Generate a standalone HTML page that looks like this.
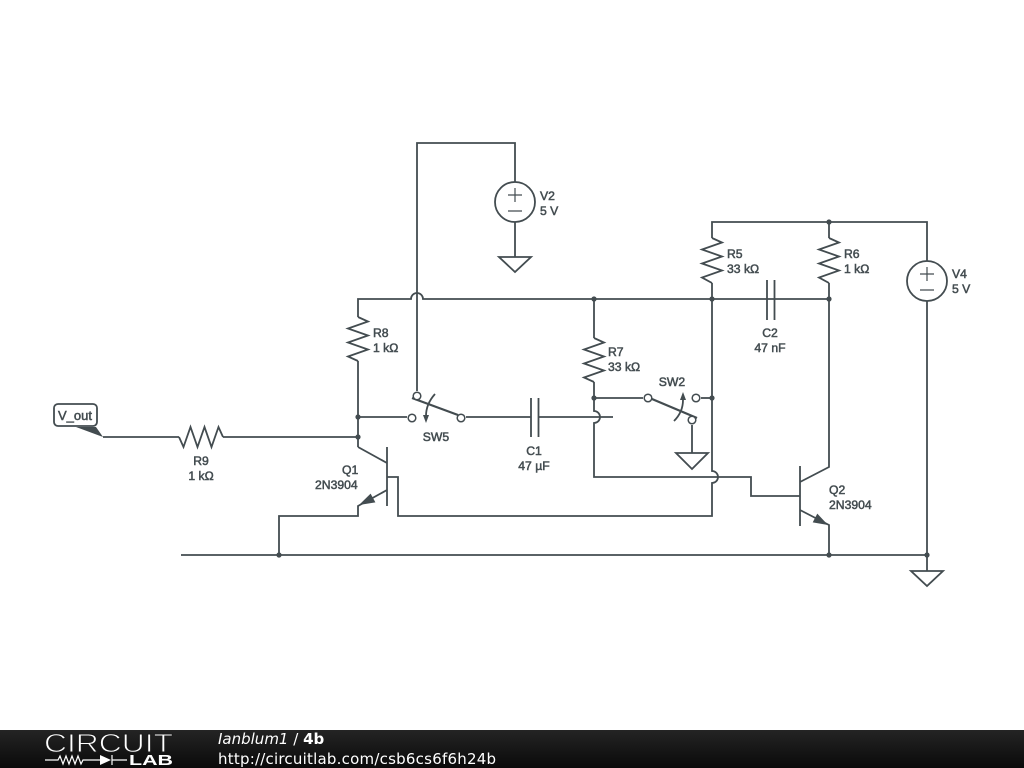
<!DOCTYPE html>
<html>
<head>
<meta charset="utf-8">
<style>
html,body{margin:0;padding:0;background:#fff;width:1024px;height:768px;overflow:hidden}
svg{display:block}
.w{fill:none;stroke:#434c50;stroke-width:1.8}
.d{fill:#434c50;stroke:none}
.c{fill:#fff;stroke:#434c50;stroke-width:1.5}
text.l{font-family:"Liberation Sans",sans-serif;font-size:12.2px;fill:#434c50;stroke:#434c50;stroke-width:.5}
</style>
</head>
<body>
<svg width="1024" height="768" viewBox="0 0 1024 768" xmlns="http://www.w3.org/2000/svg">
<defs>
<linearGradient id="g" x1="0" y1="0" x2="0" y2="1"><stop offset="0" stop-color="#242424"/><stop offset="1" stop-color="#0a0a0a"/></linearGradient>
</defs>
<rect width="1024" height="768" fill="#fff"/>

<!-- wires -->
<g class="w">
<path d="M515 182V143H417V391"/>
<path d="M515 222V257"/>
<path d="M499 257H531L515 272Z"/>
<path d="M358 317V299H411A6 6 0 0 1 423 299H829"/>
<path d="M712 238V222H927V261"/>
<path d="M829 222V238"/>
<path d="M927 301V571"/>
<path d="M911 571H943L927 586Z"/>
<path d="M181 555H927"/>
<path d="M358 361V447"/>
<path d="M358 417H407"/>
<path d="M103 437H179"/>
<path d="M223 437H358"/>
<path d="M466 417H531"/>
<path d="M538 417H613"/>
<path d="M531 398V437M538.5 398V437"/>
<path d="M767 280V320M774.5 280V320"/>
<path d="M594 299V338"/>
<path d="M594 382V411A6 6 0 0 1 594 423V477H751V496H800"/>
<path d="M712 283V471A6 6 0 0 1 712 483V516H398V477H387"/>
<path d="M594 398H643"/>
<path d="M701 398H712"/>
<path d="M692 425V453"/>
<path d="M676 453H708L692 469Z"/>
<path d="M829 283V467L800 482"/>
<path d="M800 466V526"/>
<path d="M800 510L829 525V555"/>
<path d="M358 447L387 463"/>
<path d="M387 447V506"/>
<path d="M387 490L358 506V516H279V555"/>
<!-- resistors -->
<path d="M358 317L368 321.500L348 328.500L368 335.500L348 342.500L368 349.500L348 356.500L358 361"/>
<path d="M712 238L722 242.500L702 249.500L722 256.500L702 263.500L722 270.500L702 277.500L712 283"/>
<path d="M829 238L839 242.500L819 249.500L839 256.500L819 263.500L839 270.500L819 277.500L829 283"/>
<path d="M594 338L604 342.500L584 349.500L604 356.500L584 363.500L604 370.500L584 377.500L594 382"/>
<path d="M179 437L183.500 447L190.500 427L197.500 447L204.500 427L211.500 447L218.500 427L223 437"/>
<!-- switches -->
<path d="M412 398L458 415" stroke-width="2.200"/>
<path d="M652 399L697 418" stroke-width="2.200"/>
<path d="M435 394Q426 404 426 416"/>
<path d="M674 421Q683 412 683 400"/>
<!-- sources -->
<circle cx="515" cy="202" r="20"/>
<circle cx="927" cy="281" r="20"/>
<path d="M508 195H522M515 188V202M508 211H522" stroke-width="1.200"/>
<path d="M920 274H934M927 267V281M920 290H934" stroke-width="1.200"/>
<!-- V_out -->
<rect x="54" y="404" width="43" height="22" rx="4"/>
</g>

<path class="d" d="M423 415H429L426 423Z"/>
<path class="d" d="M680 400H686L683 392Z"/>
<path class="d" d="M76 427H96L103 437Z"/>
<path class="d" d="M359 505L370.600 493.600L375.400 502.400Z"/>
<path class="d" d="M828 525L812.700 522.400L817.300 513.600Z"/>

<circle class="c" cx="417" cy="396" r="3.800"/>
<circle class="c" cx="412" cy="418" r="3.800"/>
<circle class="c" cx="461" cy="418" r="3.800"/>
<circle class="c" cx="648" cy="398" r="3.800"/>
<circle class="c" cx="696" cy="398" r="3.800"/>
<circle class="c" cx="692" cy="420" r="3.800"/>

<g class="d">
<circle cx="358" cy="417" r="2.600"/>
<circle cx="358" cy="437" r="2.600"/>
<circle cx="594" cy="299" r="2.600"/>
<circle cx="712" cy="299" r="2.600"/>
<circle cx="829" cy="299" r="2.600"/>
<circle cx="829" cy="222" r="2.600"/>
<circle cx="594" cy="398" r="2.600"/>
<circle cx="712" cy="398" r="2.600"/>
<circle cx="279" cy="555" r="2.600"/>
<circle cx="829" cy="555" r="2.600"/>
<circle cx="927" cy="555" r="2.600"/>
</g>

<!-- labels -->
<text class="l" x="58" y="420" style="font-size:13px">V_out</text>
<text class="l" x="201" y="465" text-anchor="middle">R9</text>
<text class="l" x="201" y="480" text-anchor="middle">1 kΩ</text>
<text class="l" x="373" y="337">R8</text>
<text class="l" x="373" y="352">1 kΩ</text>
<text class="l" x="540" y="200">V2</text>
<text class="l" x="540" y="215">5 V</text>
<text class="l" x="727" y="258">R5</text>
<text class="l" x="727" y="273">33 kΩ</text>
<text class="l" x="844" y="258">R6</text>
<text class="l" x="844" y="273">1 kΩ</text>
<text class="l" x="952" y="278">V4</text>
<text class="l" x="952" y="293">5 V</text>
<text class="l" x="770" y="337" text-anchor="middle">C2</text>
<text class="l" x="770" y="352" text-anchor="middle">47 nF</text>
<text class="l" x="608" y="356">R7</text>
<text class="l" x="608" y="371">33 kΩ</text>
<text class="l" x="672" y="386" text-anchor="middle">SW2</text>
<text class="l" x="436" y="441" text-anchor="middle">SW5</text>
<text class="l" x="534" y="455" text-anchor="middle">C1</text>
<text class="l" x="534" y="470" text-anchor="middle">47 µF</text>
<text class="l" x="342" y="474">Q1</text>
<text class="l" x="315" y="489">2N3904</text>
<text class="l" x="829" y="494">Q2</text>
<text class="l" x="829" y="509">2N3904</text>

<!-- footer -->
<rect x="0" y="730" width="1024" height="38" fill="url(#g)"/>
<text x="44" y="752" textLength="129" lengthAdjust="spacingAndGlyphs" font-family="Liberation Sans, sans-serif" font-size="26" fill="#fff" stroke="#1c1c1c" stroke-width=".9">CIRCUIT</text>
<path d="M45 760H58L60 756L63 764L66 756L69 764L72 756L75 764L78 756L81 764L83 760H100M112 755V765M112 760H127" fill="none" stroke="#fff" stroke-width="1.200"/>
<path d="M100 755L111 760L100 765Z" fill="#fff"/>
<text x="129" y="765" textLength="44" lengthAdjust="spacingAndGlyphs" font-family="Liberation Sans, sans-serif" font-size="15" font-weight="bold" fill="#fff">LAB</text>
<text x="218" y="744" font-family="DejaVu Sans, sans-serif" font-size="15" fill="#fff"><tspan font-style="italic">Ianblum1</tspan> / <tspan font-weight="bold">4b</tspan></text>
<text x="218" y="764" textLength="278" font-family="DejaVu Sans, sans-serif" font-size="15" fill="#fff">http://circuitlab.com/csb6cs6f6h24b</text>
</svg>
</body>
</html>
